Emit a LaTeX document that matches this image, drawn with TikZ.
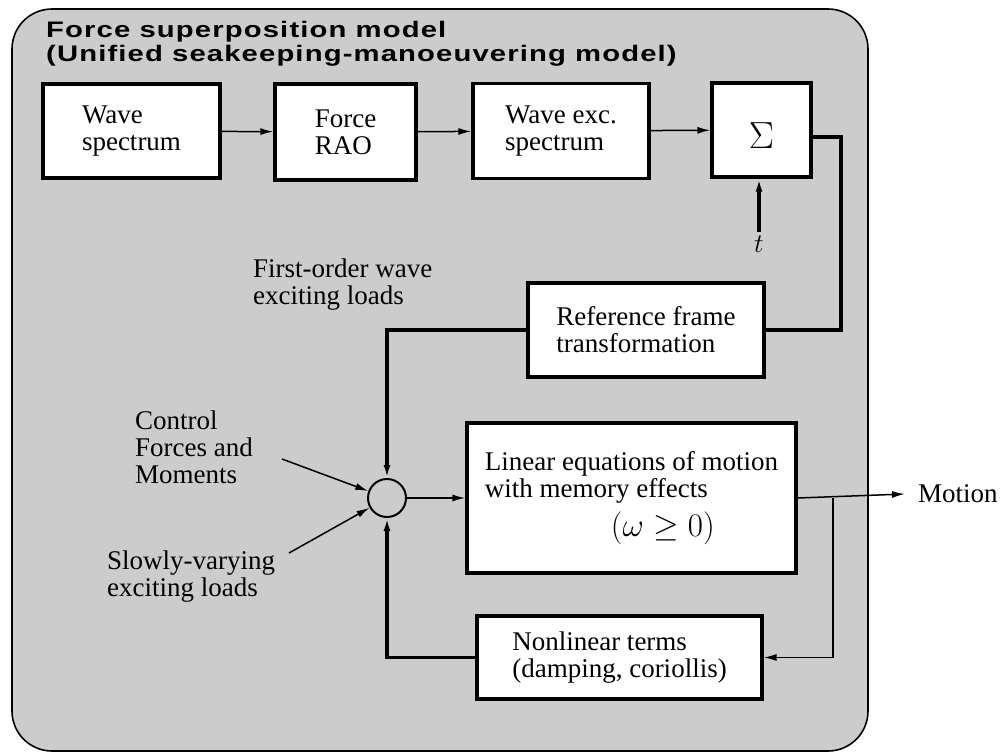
\RequirePackage{fix-cm}
\documentclass[tikz,border=0pt]{standalone}
\usepackage[no-math]{fontspec}
\setmainfont{Liberation Serif}
\newfontfamily\headfont[FakeStretch=1.3,LetterSpace=5]{Liberation Sans}
\usetikzlibrary{arrows.meta}
\definecolor{panel}{RGB}{204,204,204}
\tikzset{>/.tip={Latex[length=13pt,width=7pt]},
  blk/.style={draw, line width=3.3pt, fill=white, inner sep=0pt, align=left},
  txt/.style={inner sep=0pt, align=left},
  wire/.style={line width=1.5pt},
  bus/.style={line width=3.5pt}}

\begin{document}
\begin{tikzpicture}[x=1pt,y=-1pt,font=\fontsize{27}{27}\selectfont]
\useasboundingbox (0,0) rectangle (1002,753);
\draw[fill=panel, line width=1.6pt, rounded corners=40pt] (12,9) rectangle (868,751);
\node[txt, anchor=north west, font=\headfont\bfseries\fontsize{22.5}{24}\selectfont] (title) at (46,21) {Force superposition model\\(Unified seakeeping-manoeuvering model)};
\node[blk, minimum width=177pt, minimum height=94pt] (wave) at (131.5,131) {Wave\\spectrum};
\node[blk, minimum width=141pt, minimum height=96pt] (rao) at (345.5,132) {Force\\RAO};
\node[blk, minimum width=176pt, minimum height=95pt] (exc) at (561,131) {Wave exc.\\spectrum};
\node[blk, minimum width=99pt, minimum height=94pt, text height=37pt, text depth=0pt] (sum) at (761.5,130) {\scalebox{1.4}{$\Sigma$}};
\node[blk, minimum width=236pt, minimum height=94pt] (ref) at (646,330) {Reference frame\\transformation};
\node[blk, minimum width=329pt, minimum height=150pt] (lin) at (631.5,498) {Linear equations of motion\\with memory effects\\[8pt]\hspace*{126pt}{\fontsize{33}{33}\selectfont$(\omega\geq 0)$}};
\node[blk, minimum width=285pt, minimum height=83pt] (nl) at (619.5,657.5) {Nonlinear terms\\(damping, coriollis)};
\node[draw, circle, line width=2pt, minimum size=38pt, inner sep=0pt] (sp) at (387,498) {};
\node[txt, anchor=north west] (fo) at (253,259) {First-order wave\\exciting loads};
\node[txt, anchor=north west] (ctl) at (135,411) {Control\\Forces and\\Moments};
\node[txt, anchor=north west] (slow) at (107,551) {Slowly-varying\\exciting loads};
\node[txt, anchor=west] (mot) at (918,494) {Motion};
\node (t) at (759,244) {$t$};
\coordinate (ca) at (282,459);
\coordinate (sa) at (289,553);
\coordinate (cr) at (841,330);
\coordinate (br) at (833,498);
\draw[wire,->] (wave) -- (rao);
\draw[wire,->] (rao) -- (exc);
\draw[wire,->] (exc) -- (sum);
\draw[bus,->] (t.north) -- (t.north |- sum.south);
\draw[bus] ([yshift=-7pt]sum.east) -| (cr) -- (ref.east);
\draw[bus,->] (ref.west) -| (sp.north);
\draw[wire,->] (ca) -- (sp);
\draw[wire,->] (sa) -- (sp);
\draw[wire,->] (sp) -- (lin);
\draw[wire,->] (lin.east) -- ([xshift=-13pt]mot.west);
\draw[wire,->] (br) |- (nl.east);
\draw[bus,->] (nl.west) -| (sp.south);
\end{tikzpicture}
\end{document}
